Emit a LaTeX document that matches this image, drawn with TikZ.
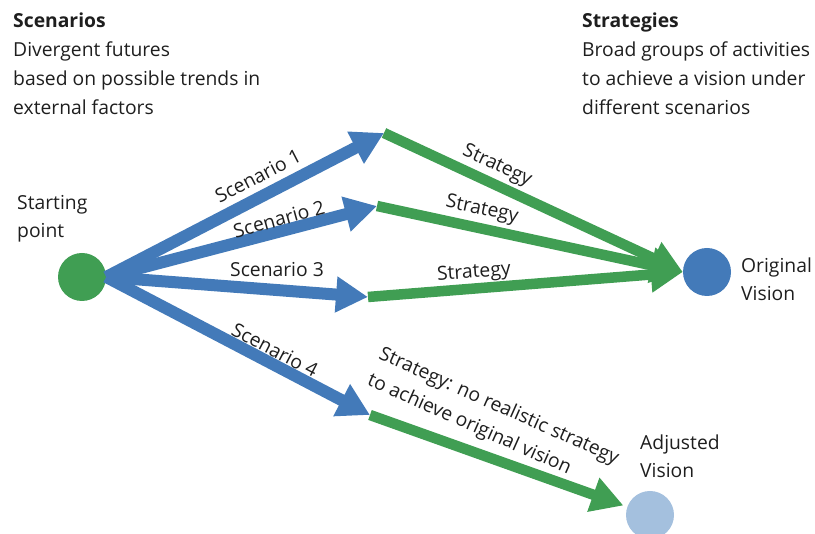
\documentclass[tikz,border=0pt]{standalone}
\usepackage{fontspec}
\setmainfont{Open Sans}
\usetikzlibrary{arrows.meta}
\definecolor{sblue}{RGB}{67,122,185}
\definecolor{sgreen}{RGB}{64,158,83}
\definecolor{lblue}{RGB}{164,192,222}
\definecolor{ink}{RGB}{30,30,30}
\begin{document}
\begin{tikzpicture}[x=1pt,y=1pt,
  txt/.style={font=\fontsize{19.3}{29}\selectfont, inner sep=0pt, align=left, text=ink, anchor=base west},
  lbl/.style={font=\fontsize{19.3}{28.5}\selectfont, inner sep=0pt, text=ink},
  scen/.style={draw=sblue, line width=12pt, -{Triangle[length=32pt,width=34pt]}},
  strat/.style={draw=sgreen, line width=10.5pt, -{Triangle[length=32pt,width=34pt]}},
  dot/.style={circle, minimum size=48pt, inner sep=0pt}]
\useasboundingbox (0,0) rectangle (815,534);

% headers (anchor at baseline of last line)
\node[txt] (scenhead) at (13,419) {\textbf{Scenarios}\\Divergent futures\\based on possible trends in\\external factors};
\node[txt] (strathead) at (582,419) {\textbf{Strategies}\\Broad groups of activities\\to achieve a vision under\\different scenarios};

% circles
\node[dot, fill=sgreen] (start) at (82,257) {};
\node[dot, fill=sblue] (orig) at (707,262) {};
\node[dot, fill=lblue] (adj) at (650,19) {};

\node[txt, font=\fontsize{19.3}{28}\selectfont] (startlbl) at (17,296) {Starting\\point};
\node[txt, font=\fontsize{19.3}{28}\selectfont] (origlbl) at (741,233) {Original\\Vision};
\node[txt, font=\fontsize{19.3}{28}\selectfont] (adjlbl) at (640,56) {Adjusted\\Vision};

% scenario end points
\coordinate (s1) at (384,401);
\coordinate (s2) at (377,328);
\coordinate (s3) at (368,237);
\coordinate (s4) at (370,119);

% green strategies
\draw[strat] (s1) -- (orig.west);
\draw[strat] (s2) -- (orig.west);
\draw[strat] (s3) -- (orig.west);
\draw[strat, shorten >=4pt] (s4) -- (adj);

% blue scenarios
\draw[scen] (start.east) -- (s1);
\draw[scen] (start.east) -- (s2);
\draw[scen] (start.east) -- (s3);
\draw[scen] (start.east) -- (s4);

% labels
\node[lbl, rotate=27.3] (l1) at (258,358) {Scenario 1};
\node[lbl, rotate=15.5] (l2) at (279,315) {Scenario 2};
\node[lbl] (l3) at (277,264) {Scenario 3};
\node[lbl, rotate=-27.5] (l4) at (275,184) {Scenario 4};
\node[lbl, rotate=-25] (t1) at (497,368) {Strategy};
\node[lbl, rotate=-12] (t2) at (482,324) {Strategy};
\node[lbl, rotate=4] (t3) at (474,261) {Strategy};
\node[lbl, rotate=-24, align=left] (t4) at (493,114) {Strategy: no realistic strategy\\to achieve original vision};
\end{tikzpicture}
\end{document}
